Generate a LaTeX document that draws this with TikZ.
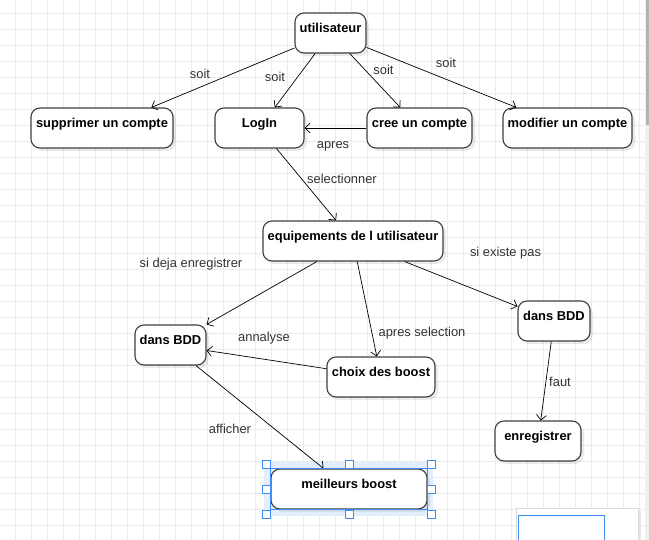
\documentclass[tikz,border=0pt]{standalone}
\usepackage{fontspec}
\setmainfont{Liberation Sans}
\usetikzlibrary{arrows.meta,shadows}
\definecolor{GridGray}{HTML}{EBEBEB}
\definecolor{SelBlue}{HTML}{3D8BF5}
\definecolor{HaloBlue}{HTML}{E3EEFD}
\definecolor{TextGray}{HTML}{333333}

\begin{document}
\begin{tikzpicture}[x=1pt,y=-1pt,
    state/.style={draw=black!75,line width=1.1pt,fill=white,rounded corners=9pt,
        inner xsep=2pt,inner ysep=4pt,text height=15.5pt,text depth=16.5pt,
        font=\bfseries\fontsize{12.9}{15}\selectfont,
        drop shadow={shadow xshift=3pt,shadow yshift=-3pt,fill=black,opacity=0.08}},
    lab/.style={inner sep=0pt,text height=8pt,text depth=0pt,text=TextGray,
        font=\fontsize{12.9}{15}\selectfont},
    link/.style={->,line width=0.7pt},
    >={Straight Barb[length=5pt,width=10pt]},
    handle/.style={draw=SelBlue,fill=white,line width=0.6pt,minimum size=8pt,inner sep=0pt}]

    \useasboundingbox (0,0) rectangle (649,540);
    \fill[white] (0,0) rectangle (649,540);

    % grid
    \foreach \gx in {15.5,31.5,...,640} \draw[GridGray,line width=0.8pt] (\gx,0)--(\gx,540);
    \foreach \gy in {13.5,29.5,...,540} \draw[GridGray,line width=0.8pt] (0,\gy)--(645,\gy);

    % scrollbar
    \fill[black!6] (645,0) rectangle (649,540);
    \fill[black!30] (645.5,0) rectangle (649,125);

    % selection halo
    \fill[HaloBlue] (264,462) rectangle (433,516);

    % states
    \node[state,minimum width=71pt] (util) at (330.5,33) {utilisateur};
    \node[state,minimum width=142pt] (supp) at (102,128) {supprimer un compte};
    \node[state,minimum width=89pt] (login) at (259.5,128) {LogIn};
    \node[state,minimum width=105pt] (cree) at (419.5,128) {cree un compte};
    \node[state,minimum width=129pt] (modif) at (567.5,128) {modifier un compte};
    \node[state,minimum width=180pt] (equip) at (353,241) {equipements de l utilisateur};
    \node[state,minimum width=71pt] (bddL) at (170.5,345) {dans BDD};
    \node[state,minimum width=108pt] (choix) at (381,377) {choix des boost};
    \node[state,minimum width=72pt] (bddR) at (554,321) {dans BDD};
    \node[state,minimum width=86pt] (enreg) at (538,441) {enregistrer};
    \node[state,minimum width=156pt] (meil) at (349,489) {meilleurs boost};

    % links
    \draw[link] (util)--(supp);
    \draw[link] (util)--(login);
    \draw[link] (util)--(cree);
    \draw[link] (util)--(modif);
    \draw[link] (cree)--(login);
    \draw[link] (login)--(equip);
    \draw[link] (equip)--(bddL);
    \draw[link] (equip)--(choix);
    \draw[link] (equip)--(bddR);
    \draw[link] (choix)--(bddL);
    \draw[link] (bddL)--(meil);
    \draw[link] (bddR)--(enreg);

    % labels
    \node[lab] (l1) at (200,75) {soit};
    \node[lab] (l2) at (275,78) {soit};
    \node[lab] (l3) at (383.5,71) {soit};
    \node[lab] (l4) at (446,64) {soit};
    \node[lab] (l5) at (333,145) {apres};
    \node[lab] (l6) at (342,180) {selectionner};
    \node[lab] (l7) at (191,264) {si deja enregistrer};
    \node[lab] (l8) at (505.5,253) {si existe pas};
    \node[lab] (l9) at (422,333) {apres selection};
    \node[lab] (l10) at (264,338) {annalyse};
    \node[lab] (l11) at (230,430) {afficher};
    \node[lab] (l12) at (560,383) {faut};

    % selection frame and handles
    \draw[SelBlue,line width=0.6pt] (meil.north west) rectangle (meil.south east);
    \foreach \hx in {266,349,431}
        \foreach \hy in {464,514} \node[handle] (h\hx\hy) at (\hx,\hy) {};
    \node[handle] (hw) at (266,489) {};
    \node[handle] (he) at (431,489) {};

    % outline view
    \fill[black!10] (519,511) rectangle (641,540);
    \fill[white] (516,508) rectangle (638,540);
    \draw[black!15,line width=0.5pt] (516,508) rectangle (638,540);
    \draw[SelBlue,line width=0.8pt] (518,515) rectangle (604,541);
\end{tikzpicture}
\end{document}
